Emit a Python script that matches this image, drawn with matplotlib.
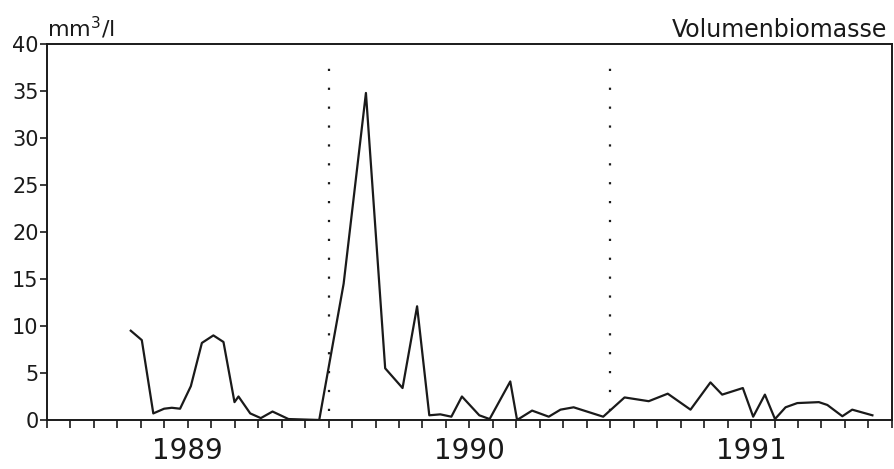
import matplotlib
matplotlib.use("Agg")
import matplotlib.pyplot as plt
import matplotlib.transforms as mtransforms

# Probenahme: Monate seit 1. Jan. 1989, Volumenbiomasse in mm3/l
monate = [3.57, 4.04, 4.53, 4.99, 5.32, 5.67, 6.13, 6.60, 7.09, 7.52,
          7.99, 8.16, 8.66, 9.11, 9.61, 10.29, 11.60, 12.64, 13.59, 14.41,
          15.15, 15.77, 16.29, 16.76, 17.23, 17.68, 18.42, 18.86, 19.74, 20.03,
          20.67, 21.38, 21.88, 22.44, 23.70, 24.61, 25.64, 26.45, 27.42, 28.27,
          28.77, 29.65, 30.09, 30.59, 31.02, 31.47, 31.97, 32.89, 33.25, 33.89,
          34.31, 35.17]
biomasse = [9.5, 8.5, 0.7, 1.2, 1.3, 1.2, 3.6, 8.2, 9.0, 8.3,
            1.9, 2.5, 0.7, 0.2, 0.9, 0.1, 0.0, 14.5, 34.8, 5.5,
            3.4, 12.1, 0.5, 0.6, 0.35, 2.5, 0.5, 0.1, 4.1, 0.0,
            1.0, 0.35, 1.1, 1.35, 0.35, 2.4, 2.0, 2.8, 1.1, 4.0,
            2.7, 3.4, 0.35, 2.7, 0.1, 1.35, 1.8, 1.9, 1.6, 0.4,
            1.1, 0.5]
jahre = ["1989", "1990", "1991"]
jahresmitte = [6, 18, 30]
jahresgrenzen = [12, 24]

fig = plt.figure(figsize=(8.95, 4.69), dpi=100)
ax = fig.add_axes([0.0525, 0.1045, 0.944, 0.8015])
ink = "#1a1a1a"

ax.plot(monate, biomasse, color=ink, lw=1.6)
ax.vlines(jahresgrenzen, 1.0, 38.5, colors=ink, lw=1.6,
          linestyles=(0, (1, 7.5)))

ax.set_xlim(0, 36)
ax.set_ylim(0, 40)
ax.set_yticks(range(0, 41, 5))
ax.set_xticks(range(0, 37))
ax.set_xticklabels([])
ax.tick_params(axis="x", direction="out", length=6, width=1.2, color=ink)
ax.tick_params(axis="y", direction="out", length=5, width=1.2,
               color=ink, labelsize=15, labelcolor=ink, pad=1)
for s in ax.spines.values():
    s.set_color(ink)
    s.set_linewidth(1.4)

# Jahreszahlen mittig unter jedem Jahr
trans = mtransforms.blended_transform_factory(ax.transData, ax.transAxes)
for m, j in zip(jahresmitte, jahre):
    ax.text(m, -0.045, j, transform=trans, ha="center", va="top",
            fontsize=20, color=ink)

fig.text(0.053, 0.922, "mm$^3$/l", fontsize=16, color=ink,
         ha="left", va="baseline")
fig.text(0.991, 0.922, "Volumenbiomasse", fontsize=17, color=ink,
         ha="right", va="baseline")

fig.savefig("out.png", dpi=100)
